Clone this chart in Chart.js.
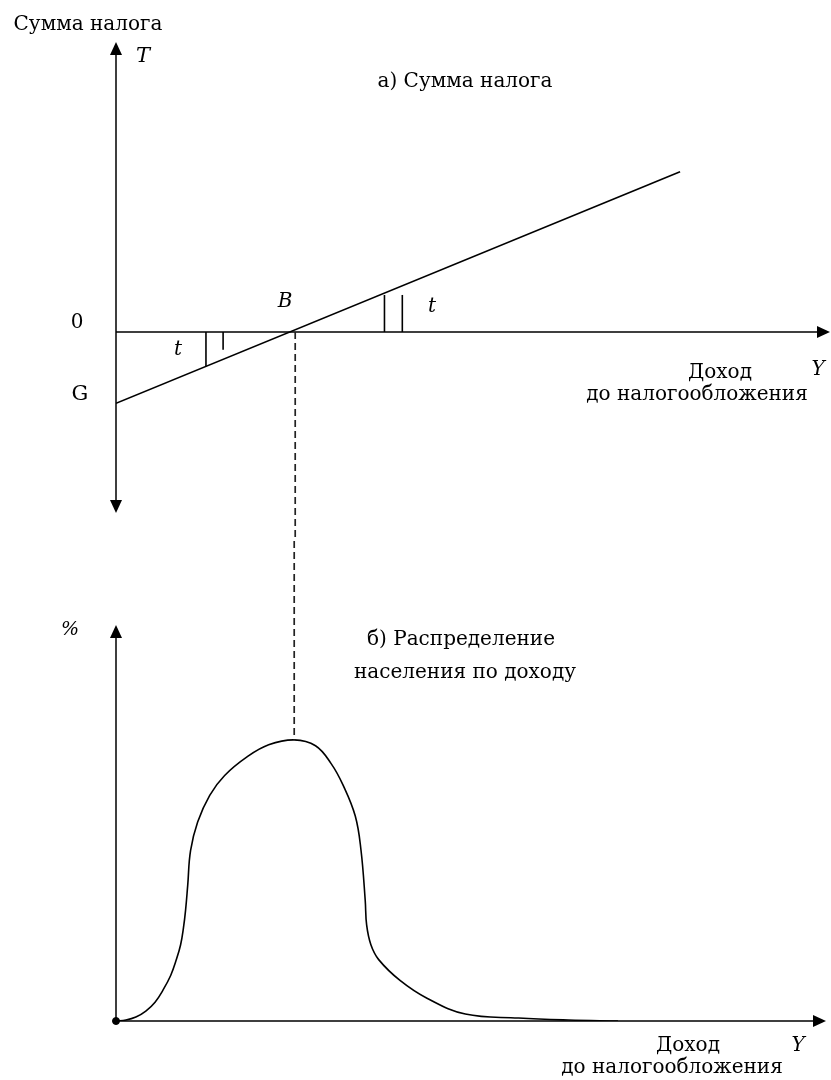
<!DOCTYPE html>
<html lang="ru">
<head>
<meta charset="utf-8">
<title>Сумма налога и распределение населения по доходу</title>
<script src="https://cdn.jsdelivr.net/npm/chart.js@4.4.1/dist/chart.umd.min.js"></script>
<style>
  html, body { margin: 0; padding: 0; background: #fff; }
  #wrap { position: relative; width: 831px; height: 1080px; }
  .box { position: absolute; left: 0; width: 831px; height: 540px; }
  #top { top: 0; }
  #bottom { top: 540px; }
</style>
</head>
<body>
<div id="wrap">
  <div class="box" id="top"><canvas id="taxChart"></canvas></div>
  <div class="box" id="bottom"><canvas id="distChart"></canvas></div>
</div>
<script>
// а) сумма налога T в зависимости от дохода Y (условные единицы)
const taxIncome = [0, 79];
const taxAmount = [-10, 22.5];
// отрезки t — приращение налога
const tMarkIncome = [12.6, 15.0, 37.6, 40.1];
const tMarkTop = [-4.8, -2.5, 5.2, 5.2];

// б) распределение населения по доходу, %
const distIncome = [0, 1.4, 2.8, 4.2, 5.5, 6.6, 7.7, 8.5, 9.1, 9.5, 9.8, 10.1, 10.5, 11.5, 13.2, 15.3, 18.5, 21.5, 25.1,
  28.1, 30.3, 32.0, 33.7, 34.5, 35.1, 35.3, 35.9, 37.0, 40.0, 43.8, 49.2, 56.7, 63.7, 70.7];
const distShare = [0, 0.1, 0.4, 1.0, 1.9, 3.1, 4.6, 6.2, 7.7, 9.4, 11.2, 13.7, 17.2, 20.1, 22.8, 24.8, 26.7, 27.9, 28.4,
  27.8, 26.0, 23.8, 20.7, 17.3, 12.2, 9.7, 7.7, 6.2, 4.1, 2.3, 0.7, 0.3, 0.1, 0];
const peakIncome = 25.1;
const peakShare = 28.4;

const serif = '"DejaVu Serif", "Liberation Serif", serif';

function toPoints(xs, ys) {
  return xs.map((x, i) => ({ x: x, y: ys[i] }));
}

// стрелка на конце оси
function arrowHead(ctx, x, y, dir) {
  const L = 13, W = 6;
  ctx.beginPath();
  if (dir === 'up') { ctx.moveTo(x, y); ctx.lineTo(x - W, y + L); ctx.lineTo(x + W, y + L); }
  if (dir === 'down') { ctx.moveTo(x, y); ctx.lineTo(x - W, y - L); ctx.lineTo(x + W, y - L); }
  if (dir === 'right') { ctx.moveTo(x, y); ctx.lineTo(x - L, y - W); ctx.lineTo(x - L, y + W); }
  ctx.closePath();
  ctx.fill();
}

// оси со стрелками
const arrowAxes = {
  id: 'arrowAxes',
  beforeDatasetsDraw(chart, args, opts) {
    const { ctx, chartArea: a, scales: { x, y } } = chart;
    const x0 = x.getPixelForValue(0);
    const y0 = y.getPixelForValue(0);
    ctx.save();
    ctx.strokeStyle = '#000';
    ctx.fillStyle = '#000';
    ctx.lineWidth = 1.5;
    ctx.beginPath();
    ctx.moveTo(x0, a.bottom - (opts.down ? 8 : 0));
    ctx.lineTo(x0, a.top + 8);
    ctx.moveTo(x0, y0);
    ctx.lineTo(a.right - 8, y0);
    ctx.stroke();
    arrowHead(ctx, x0, a.top, 'up');
    arrowHead(ctx, a.right, y0, 'right');
    if (opts.down) arrowHead(ctx, x0, a.bottom, 'down');
    ctx.restore();
  }
};

// пунктир от точки B к вершине распределения
const dashLink = {
  id: 'dashLink',
  afterDatasetsDraw(chart, args, opts) {
    const { ctx, scales: { x, y } } = chart;
    const px = x.getPixelForValue(opts.income);
    const from = opts.fromValue === null ? 0 : y.getPixelForValue(opts.fromValue);
    const to = opts.toValue === null ? chart.height : y.getPixelForValue(opts.toValue);
    ctx.save();
    ctx.strokeStyle = '#222';
    ctx.lineWidth = 1.7;
    ctx.setLineDash([7, 4]);
    ctx.lineDashOffset = opts.offset || 0;
    ctx.beginPath();
    ctx.moveTo(px, from);
    ctx.lineTo(px, to);
    ctx.stroke();
    ctx.restore();
  }
};

// подписи
const labels = {
  id: 'labels',
  afterDraw(chart, args, opts) {
    const ctx = chart.ctx;
    ctx.save();
    ctx.fillStyle = '#000';
    ctx.textBaseline = 'middle';
    opts.items.forEach(it => {
      ctx.font = (it.italic ? 'italic ' : '') + (it.size || 20) + 'px ' + serif;
      ctx.textAlign = it.align || 'center';
      ctx.fillText(it.text, it.x, it.y);
    });
    ctx.restore();
  }
};

const baseOptions = (padding, yMin, yMax) => ({
  responsive: true,
  maintainAspectRatio: false,
  animation: false,
  events: [],
  layout: { padding: padding },
  scales: {
    x: { type: 'linear', min: 0, max: 100, display: false },
    y: { type: 'linear', min: yMin, max: yMax, display: false }
  },
  plugins: { legend: { display: false }, tooltip: { enabled: false } }
});

const lineStyle = { showLine: true, pointRadius: 0, borderColor: '#000', borderWidth: 1.6, tension: 0 };

// а) сумма налога
const taxDatasets = [
  Object.assign({ label: 'Налог', data: toPoints(taxIncome, taxAmount) }, lineStyle)
];
tMarkIncome.forEach((inc, i) => {
  taxDatasets.push(Object.assign({ label: 't', data: [{ x: inc, y: 0 }, { x: inc, y: tMarkTop[i] }] }, lineStyle));
});

const topOpts = baseOptions({ left: 116, right: 1, top: 42, bottom: 27 }, -25.4, 40.7);
topOpts.plugins.arrowAxes = { down: true };
topOpts.plugins.dashLink = { income: peakIncome, fromValue: 0, toValue: null };
topOpts.plugins.labels = {
  items: [
    { text: 'Сумма налога', x: 88, y: 25 },
    { text: 'T', x: 143, y: 57, italic: true, size: 21 },
    { text: 'а) Сумма налога', x: 465, y: 82 },
    { text: 'B', x: 285, y: 302, italic: true, size: 20 },
    { text: '0', x: 77, y: 323, size: 20 },
    { text: 't', x: 178, y: 350, italic: true, size: 20 },
    { text: 't', x: 432, y: 307, italic: true, size: 20 },
    { text: 'G', x: 80, y: 395, size: 21 },
    { text: 'Доход', x: 720, y: 373 },
    { text: 'Y', x: 818, y: 370, italic: true, size: 20 },
    { text: 'до налогообложения', x: 697, y: 395 }
  ]
};

new Chart(document.getElementById('taxChart'), {
  type: 'scatter',
  data: { datasets: taxDatasets },
  options: topOpts,
  plugins: [arrowAxes, dashLink, labels]
});

// б) распределение населения по доходу
const bottomOpts = baseOptions({ left: 116, right: 1, top: 85, bottom: 59 }, 0, 40);
bottomOpts.plugins.arrowAxes = { down: false };
bottomOpts.plugins.dashLink = { income: peakIncome, fromValue: null, toValue: peakShare, offset: 208 % 11 };
bottomOpts.plugins.labels = {
  items: [
    { text: '%', x: 70, y: 90, italic: true, size: 19 },
    { text: 'б) Распределение', x: 461, y: 100 },
    { text: 'населения по доходу', x: 465, y: 133 },
    { text: 'Доход', x: 688, y: 506 },
    { text: 'Y', x: 798, y: 506, italic: true, size: 20 },
    { text: 'до налогообложения', x: 672, y: 528 }
  ]
};

new Chart(document.getElementById('distChart'), {
  type: 'scatter',
  data: {
    datasets: [
      Object.assign({ label: 'Распределение', data: toPoints(distIncome, distShare) }, lineStyle,
        { tension: 0.4 }),
      { label: 'Начало', data: [{ x: distIncome[0], y: distShare[0] }], pointRadius: 3.5,
        pointBackgroundColor: '#000', pointBorderColor: '#000', clip: false }
    ]
  },
  options: bottomOpts,
  plugins: [arrowAxes, dashLink, labels]
});
</script>
</body>
</html>
